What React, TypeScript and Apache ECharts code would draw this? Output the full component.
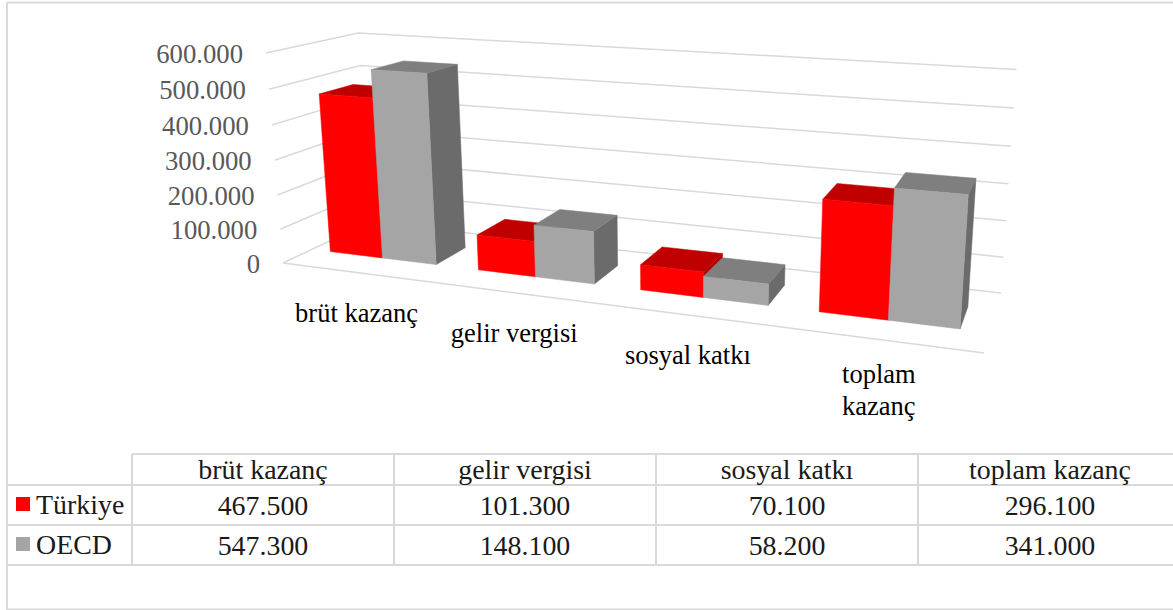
import React, { useEffect, useRef } from "react";
import * as echarts from "echarts";

const categories = ["brüt kazanç", "gelir vergisi", "sosyal katkı", "toplam kazanç"];
const axisCategoryLabels = ["brüt kazanç", "gelir vergisi", "sosyal katkı", "toplam\nkazanç"];
const turkiyeValues = [467500, 101300, 70100, 296100];
const oecdValues = [547300, 148100, 58200, 341000];
const yTicks = [0, 100000, 200000, 300000, 400000, 500000, 600000];
const seriesNames = ["Türkiye", "OECD"];

const FONT = '"Liberation Serif", serif';
const fmt = (n: number) => String(n).replace(/\B(?=(\d{3})+(?!\d))/g, ".");

// view of the 3D box: screen corners of the floor and of the top of the left-front edge
function makeProjection() {
  const [x0, y0] = [283, 263];
  const [x1, y1] = [984, 353];
  const [x2, y2] = [1001, 293];
  const [x3, y3] = [370, 222];
  const [xt, yt] = [266, 53];
  const m = -0.042;
  const sx = x0 - x1 + x2 - x3;
  const sy = y0 - y1 + y2 - y3;
  const dx1 = x1 - x2;
  const dy1 = y1 - y2;
  const dx2 = x3 - x2;
  const dy2 = y3 - y2;
  const det = dx1 * dy2 - dx2 * dy1;
  const g = (sx * dy2 - dx2 * sy) / det;
  const h = (dx1 * sy - sx * dy1) / det;
  const a = x1 - x0 + g * x1;
  const b = x3 - x0 + h * x3;
  const d = y1 - y0 + g * y1;
  const e = y3 - y0 + h * y3;
  const xv = xt * (1 + m) - x0;
  const yv = yt * (1 + m) - y0;
  return (u: number, w: number, v: number): number[] => {
    const den = g * u + h * w + m * v + 1;
    return [(a * u + b * w + x0 + xv * v) / den, (d * u + e * w + y0 + yv * v) / den];
  };
}
const project = makeProjection();

const BAR_FRONT = 0.31;
const BAR_BACK = 0.69;
const BAR_HALF = 0.362; // of a category band
const BAR_SHIFT = -0.002;
const GRID_LINE = "#d9d9d9";

function barRender(side: number, front: string, top: string, right: string) {
  return (params: any, api: any) => {
    const cs = params.coordSys;
    const p = api.coord([api.value(0), api.value(1)]);
    const c = (p[0] - cs.x) / cs.width + BAR_SHIFT;
    const v = (cs.y + cs.height - p[1]) / cs.height;
    const bw = (api.size([1, 0])[0] / cs.width) * BAR_HALF;
    const u0 = side === 0 ? c - bw : c;
    const u1 = side === 0 ? c : c + bw;
    const face = (pts: number[][], fill: string) => ({
      type: "polygon",
      shape: { points: pts },
      style: { fill, stroke: fill, lineWidth: 0.5 },
    });
    return {
      type: "group",
      children: [
        face(
          [project(u1, BAR_FRONT, 0), project(u1, BAR_BACK, 0), project(u1, BAR_BACK, v), project(u1, BAR_FRONT, v)],
          right
        ),
        face(
          [project(u0, BAR_FRONT, v), project(u1, BAR_FRONT, v), project(u1, BAR_BACK, v), project(u0, BAR_BACK, v)],
          top
        ),
        face(
          [project(u0, BAR_FRONT, 0), project(u1, BAR_FRONT, 0), project(u1, BAR_FRONT, v), project(u0, BAR_FRONT, v)],
          front
        ),
      ],
    };
  };
}

function frameRender(params: any, api: any) {
  const cs = params.coordSys;
  const tick = api.value(1);
  const p = api.coord([0, tick]);
  const v = (cs.y + cs.height - p[1]) / cs.height;
  const left = project(0, 0, v);
  const children: any[] = [
    {
      type: "polyline",
      shape: { points: [left, project(0, 1, v), project(1, 1, v)] },
      style: { stroke: GRID_LINE, lineWidth: 1.5, fill: "none" },
    },
    {
      type: "text",
      style: {
        text: fmt(tick),
        x: left[0] - 23,
        y: left[1] + 1,
        align: "right",
        verticalAlign: "middle",
        font: `26.7px ${FONT}`,
        fill: "#595959",
      },
    },
  ];
  if (tick === 0) {
    children.push({
      type: "line",
      shape: { x1: left[0], y1: left[1], x2: project(1, 0, 0)[0], y2: project(1, 0, 0)[1] },
      style: { stroke: GRID_LINE, lineWidth: 1.5 },
    });
  }
  return { type: "group", children };
}

function categoryRender(params: any, api: any) {
  const cs = params.coordSys;
  const idx = api.value(0);
  const p = api.coord([idx, 0]);
  const c = (p[0] - cs.x) / cs.width;
  const q = project(c, 0, 0);
  const label = axisCategoryLabels[idx];
  const lines = label.split("\n").length;
  return {
    type: "text",
    style: {
      text: label,
      x: q[0],
      y: q[1] + 40.5 + (lines - 1) * 10,
      align: lines > 1 ? "left" : "center",
      verticalAlign: "middle",
      font: `26.5px ${FONT}`,
      lineHeight: 32,
      fill: "#000000",
    },
    ...(lines > 1 ? { x: -38 } : {}),
  };
}

function buildTable() {
  const els: any[] = [];
  const columns = [132, 394, 656, 918, 1182];
  const rows = [454, 485, 525, 565];
  const line = (x1: number, y1: number, x2: number, y2: number) => ({
    type: "line",
    shape: { x1, y1, x2, y2 },
    style: { stroke: GRID_LINE, lineWidth: 2 },
    silent: true,
  });
  // outer frame
  els.push(line(7, 2.5, 1173, 2.5), line(7, 2.5, 7, 610), line(7, 609.5, 1173, 609.5));
  // table rules
  els.push(line(132, rows[0], 1173, rows[0]));
  rows.slice(1).forEach((y) => els.push(line(7, y, 1173, y)));
  columns.slice(0, 4).forEach((x) => els.push(line(x, rows[0], x, rows[3])));
  const text = (t: string, x: number, y: number, align: string) => ({
    type: "text",
    style: { text: t, x, y, align, verticalAlign: "middle", font: `27.9px ${FONT}`, fill: "#1a1a1a" },
    silent: true,
  });
  categories.forEach((cat, i) => {
    const cx = (columns[i] + columns[i + 1]) / 2;
    els.push(text(cat, cx, 469.5, "center"));
    els.push(text(fmt(turkiyeValues[i]), cx, 505, "center"));
    els.push(text(fmt(oecdValues[i]), cx, 545, "center"));
  });
  els.push(text(seriesNames[0], 36, 504.5, "left"));
  els.push(text(seriesNames[1], 36, 544, "left"));
  els.push({ type: "rect", shape: { x: 16, y: 497, width: 14, height: 14 }, style: { fill: "#ff0000" }, silent: true });
  els.push({ type: "rect", shape: { x: 16, y: 537, width: 14, height: 14 }, style: { fill: "#a5a5a5" }, silent: true });
  return els;
}

export default function App() {
  const ref = useRef<HTMLDivElement>(null);
  useEffect(() => {
    const chart = echarts.init(ref.current!, undefined, { renderer: "svg" });
    chart.setOption({
      animation: false,
      backgroundColor: "#ffffff",
      grid: { left: 100, right: 100, top: 100, bottom: 100 },
      xAxis: { type: "category", data: categories, show: false },
      yAxis: { type: "value", min: 0, max: 600000, interval: 100000, show: false },
      graphic: { elements: buildTable() },
      series: [
        {
          type: "custom",
          name: "frame",
          silent: true,
          clip: false,
          renderItem: frameRender,
          data: yTicks.map((t) => [0, t]),
          encode: { x: 0, y: 1 },
        },
        {
          type: "custom",
          name: "labels",
          silent: true,
          clip: false,
          renderItem: categoryRender,
          data: categories.map((_, i) => [i, 0]),
          encode: { x: 0, y: 1 },
        },
        {
          type: "custom",
          name: seriesNames[0],
          silent: true,
          clip: false,
          renderItem: barRender(0, "#ff0000", "#c00000", "#b00000"),
          data: turkiyeValues.map((val, i) => [i, val]),
          encode: { x: 0, y: 1 },
        },
        {
          type: "custom",
          name: seriesNames[1],
          silent: true,
          clip: false,
          renderItem: barRender(1, "#a5a5a5", "#7f7f7f", "#6b6b6b"),
          data: oecdValues.map((val, i) => [i, val]),
          encode: { x: 0, y: 1 },
        },
      ],
    });
    return () => chart.dispose();
  }, []);
  return <div ref={ref} style={{ position: "absolute", left: 0, top: 0, width: 1173, height: 610 }} />;
}
